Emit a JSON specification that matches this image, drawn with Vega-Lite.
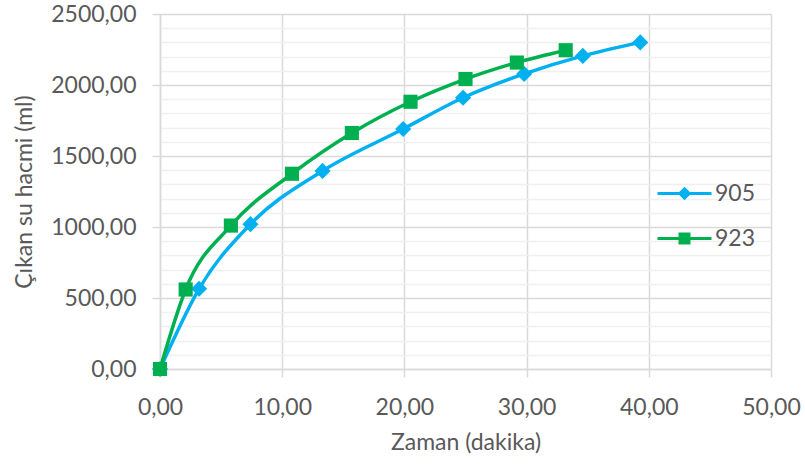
{
  "$schema": "https://vega.github.io/schema/vega-lite/v6.json",
  "width": 611,
  "height": 355,
  "autosize": "none",
  "padding": {"left": 160, "top": 14, "right": 34, "bottom": 95},
  "background": "white",
  "config": {
    "locale": {"number": {"decimal": ",", "thousands": ".", "grouping": [3], "currency": ["", ""]}},
    "font": "Lato",
    "view": {"stroke": null},
    "axis": {
      "labelFont": "Lato", "labelFontSize": 23, "labelColor": "#595959",
      "titleFont": "Lato", "titleFontSize": 23, "titleColor": "#595959", "titleFontWeight": "normal",
      "domainColor": "#d9d9d9", "tickColor": "#d9d9d9", "gridColor": "#d9d9d9",
      "domainWidth": 1.5, "tickWidth": 1.5, "gridWidth": 1.5, "tickSize": 8
    }
  },
  "data": {
    "values": [
      {"s": "905", "t": 0, "v": 0},
      {"s": "905", "t": 3.2, "v": 565},
      {"s": "905", "t": 7.4, "v": 1020},
      {"s": "905", "t": 13.3, "v": 1395},
      {"s": "905", "t": 19.9, "v": 1690},
      {"s": "905", "t": 24.8, "v": 1910},
      {"s": "905", "t": 29.8, "v": 2078},
      {"s": "905", "t": 34.6, "v": 2205},
      {"s": "905", "t": 39.3, "v": 2300},
      {"s": "923", "t": 0, "v": 0},
      {"s": "923", "t": 2.1, "v": 560},
      {"s": "923", "t": 5.8, "v": 1010},
      {"s": "923", "t": 10.8, "v": 1375},
      {"s": "923", "t": 15.7, "v": 1662},
      {"s": "923", "t": 20.5, "v": 1882},
      {"s": "923", "t": 25.0, "v": 2042},
      {"s": "923", "t": 29.2, "v": 2158},
      {"s": "923", "t": 33.2, "v": 2245}
    ]
  },
  "encoding": {
    "x": {
      "field": "t", "type": "quantitative",
      "scale": {"domain": [0, 50], "nice": false, "zero": true},
      "axis": {
        "title": "Zaman (dakika)", "values": [0, 10, 20, 30, 40, 50], "format": ".2f",
        "labelPadding": 19, "titlePadding": 12, "labelFlush": false
      }
    },
    "y": {
      "field": "v", "type": "quantitative",
      "scale": {"domain": [0, 2500], "nice": false},
      "axis": {
        "title": "Çıkan su hacmi (ml)",
        "values": [0,100,200,300,400,500,600,700,800,900,1000,1100,1200,1300,1400,1500,1600,1700,1800,1900,2000,2100,2200,2300,2400,2500],
        "format": ".2f",
        "labelExpr": "datum.value % 500 === 0 ? datum.label : ''",
        "gridColor": {"condition": {"test": "datum.value % 500 === 0", "value": "#d9d9d9"}, "value": "#f0f0f0"},
        "tickOpacity": {"condition": {"test": "datum.value % 500 === 0", "value": 1}, "value": 0},
        "labelPadding": 16, "titlePadding": 14
      }
    }
  },
  "layer": [
    {
      "mark": {"type": "line", "interpolate": "monotone", "strokeWidth": 3.5},
      "encoding": {
        "color": {
          "field": "s", "type": "nominal",
          "scale": {"domain": ["905", "923"], "range": ["#00B0F0", "#00B050"]}
        }
      }
    },
    {
      "transform": [{"filter": "datum.s == '905'"}],
      "mark": {"type": "point", "filled": true, "opacity": 1, "shape": "diamond", "size": 260, "color": "#00B0F0"}
    },
    {
      "transform": [{"filter": "datum.s == '923'"}],
      "mark": {"type": "point", "filled": true, "opacity": 1, "shape": "square", "size": 200, "color": "#00B050"}
    },
    {
      "mark": {"type": "point", "filled": true, "opacity": 0},
      "encoding": {
        "color": {
          "field": "s", "type": "nominal",
          "scale": {"domain": ["905", "923"], "range": ["#00B0F0", "#00B050"]},
          "legend": {
            "title": null, "orient": "none", "legendX": 513, "legendY": 168,
            "symbolSize": 400, "symbolOpacity": 1, "symbolStrokeWidth": 0, "rowPadding": 21, "labelOffset": 19,
            "labelFontSize": 23, "labelColor": "#595959", "labelFont": "Lato"
          }
        },
        "shape": {
          "field": "s", "type": "nominal",
          "scale": {"domain": ["905", "923"], "range": ["M-2.7,-0.15H2.7V0.15H-2.7ZM0,-0.68L0.68,0L0,0.68L-0.68,0Z", "M-2.7,-0.15H2.7V0.15H-2.7ZM-0.6,-0.6H0.6V0.6H-0.6Z"]},
          "legend": {
            "title": null, "orient": "none", "legendX": 513, "legendY": 168,
            "symbolSize": 400, "symbolOpacity": 1, "symbolStrokeWidth": 0, "rowPadding": 21, "labelOffset": 19,
            "labelFontSize": 23, "labelColor": "#595959", "labelFont": "Lato"
          }
        }
      }
    }
  ]
}
